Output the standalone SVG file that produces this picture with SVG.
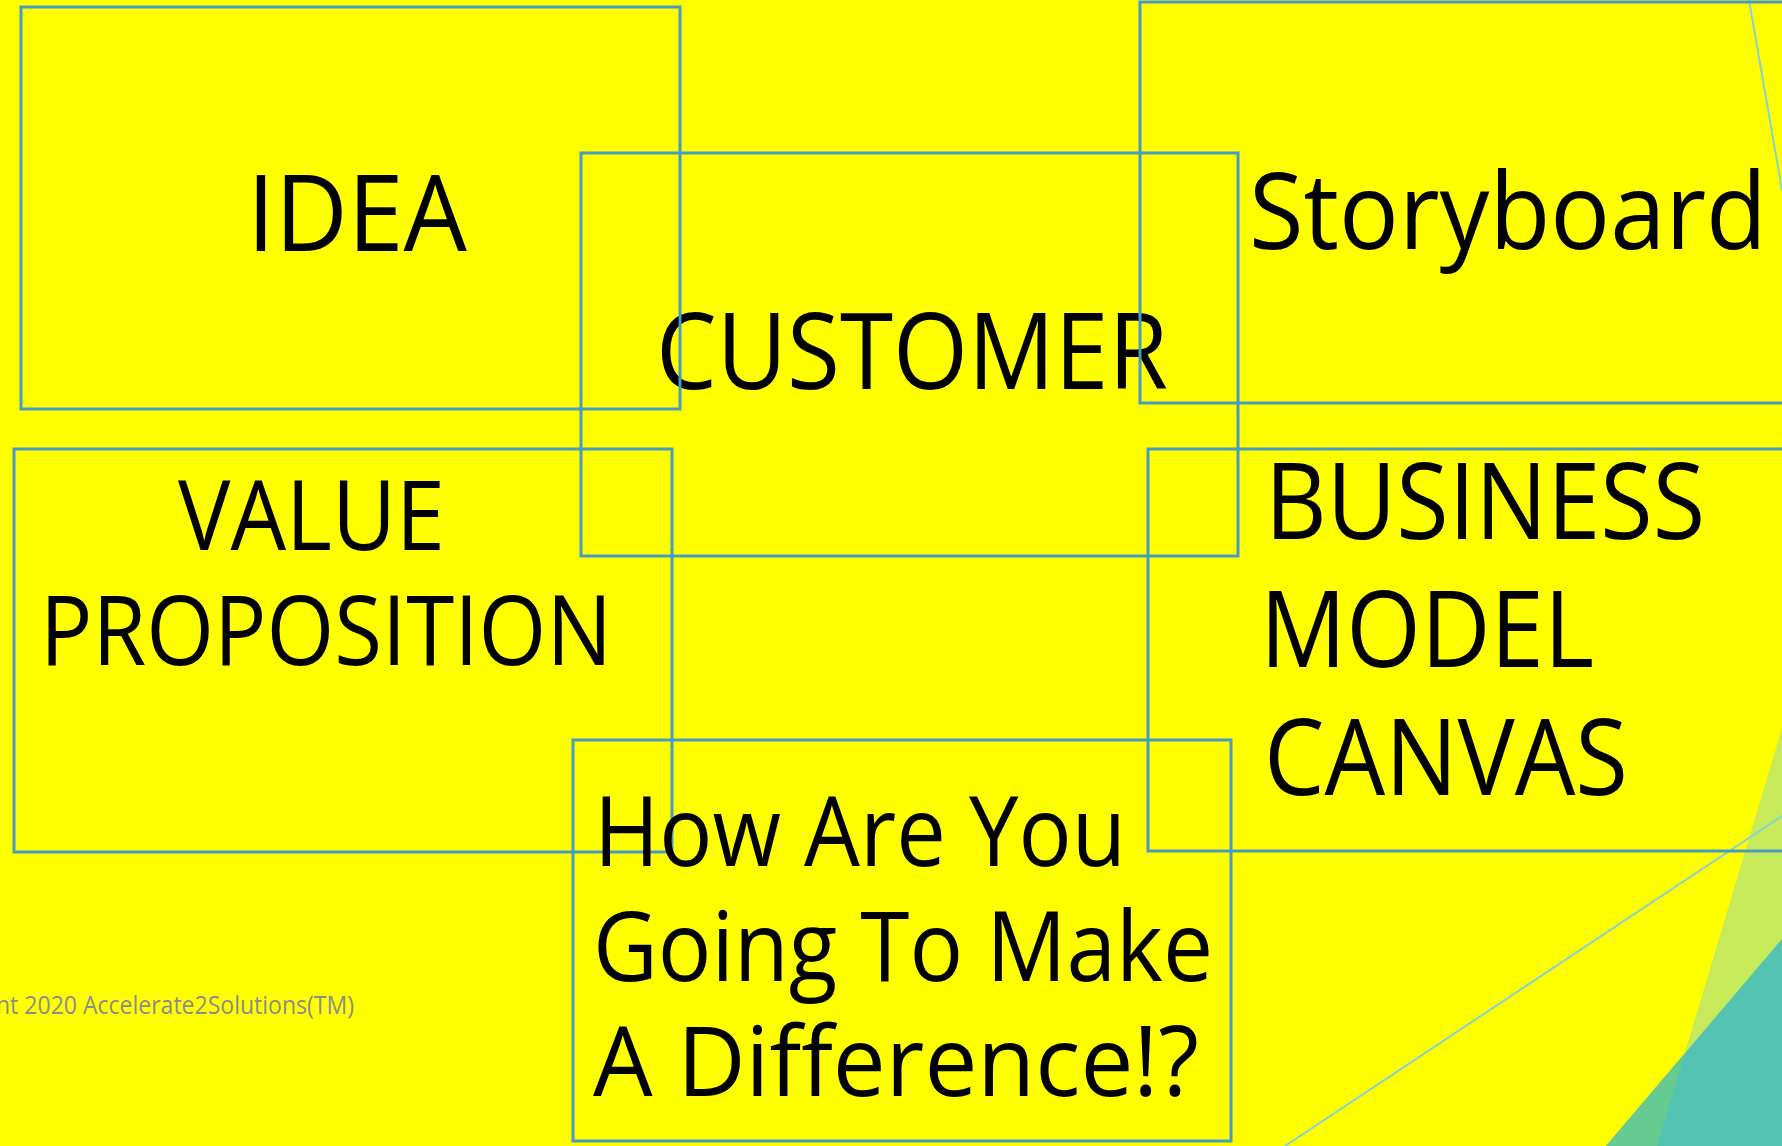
<svg xmlns="http://www.w3.org/2000/svg" width="1782" height="1146" viewBox="0 0 1782 1146">
  <style>
    .box { fill: none; stroke: #4a9bc2; stroke-width: 3; }
    .big { font-family: "Open Sans", "Liberation Sans", sans-serif; font-size: 107px; fill: #000; }
    .mid { font-family: "Open Sans", "Liberation Sans", sans-serif; font-size: 97px; fill: #000; }
    .foot { font-family: "Open Sans", "Liberation Sans", sans-serif; font-size: 26px; fill: #8c8c8c; }
    .thin { stroke: #84d2d6; stroke-width: 2; fill: none; }
  </style>

  <!-- page background and corner decoration -->
  <g id="background">
    <rect x="0" y="0" width="1782" height="1146" fill="#ffff00"/>
    <polygon points="1782,728 1657,1146 1782,1146" fill="#c6ea5a"/>
    <polygon points="1782,939 1606,1146 1782,1146" fill="#53c4b1"/>
    <polygon points="1685,1053 1606,1146 1657,1146" fill="#66cb91"/>
    <line class="thin" x1="1749" y1="0" x2="1782" y2="190"/>
    <line class="thin" x1="1285" y1="1146" x2="1782" y2="816"/>
  </g>

  <g id="connectors"/>

  <g id="customer">
    <rect class="box" x="581" y="153" width="657" height="403"/>
    <text class="big" x="656" y="389" textLength="512" lengthAdjust="spacingAndGlyphs">CUSTOMER</text>
  </g>

  <g id="idea">
    <rect class="box" x="21" y="7" width="659" height="402"/>
    <text class="big" x="247" y="251" textLength="220" lengthAdjust="spacingAndGlyphs">IDEA</text>
  </g>

  <g id="storyboard">
    <rect class="box" x="1140" y="2" width="700" height="401"/>
    <text class="big" x="1249" y="249" textLength="518" lengthAdjust="spacingAndGlyphs">Storyboard</text>
  </g>

  <g id="value-proposition">
    <rect class="box" x="14" y="449" width="658" height="403"/>
    <text class="mid" x="178" y="550" textLength="267" lengthAdjust="spacingAndGlyphs">VALUE</text>
    <text class="mid" x="40" y="665" textLength="572" lengthAdjust="spacingAndGlyphs">PROPOSITION</text>
  </g>

  <g id="business-model-canvas">
    <rect class="box" x="1148" y="449" width="700" height="402"/>
    <text class="big" x="1265" y="539" textLength="440" lengthAdjust="spacingAndGlyphs">BUSINESS</text>
    <text class="big" x="1260" y="667" textLength="334" lengthAdjust="spacingAndGlyphs">MODEL</text>
    <text class="big" x="1264" y="795" textLength="364" lengthAdjust="spacingAndGlyphs">CANVAS</text>
  </g>

  <g id="make-a-difference">
    <rect class="box" x="573" y="740" width="658" height="401"/>
    <text class="mid" x="594" y="866" textLength="532" lengthAdjust="spacingAndGlyphs">How Are You</text>
    <text class="mid" x="593" y="981" textLength="620" lengthAdjust="spacingAndGlyphs">Going To Make</text>
    <text class="mid" x="593" y="1096" textLength="606" lengthAdjust="spacingAndGlyphs">A Difference!?</text>
  </g>

  <g id="footer">
    <text class="foot" x="-4" y="1014" textLength="358" lengthAdjust="spacingAndGlyphs">nt 2020 Accelerate2Solutions(TM)</text>
  </g>
</svg>
